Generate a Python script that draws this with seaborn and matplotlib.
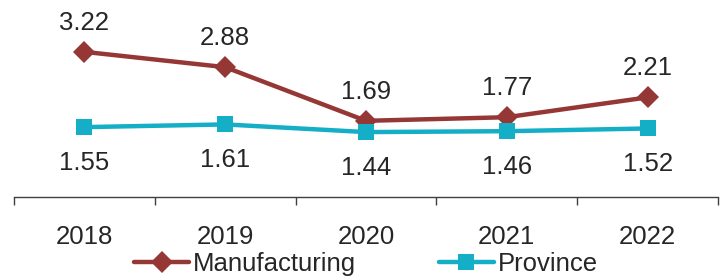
import matplotlib.pyplot as plt
import numpy as np
import pandas as pd
import seaborn as sns

years = ["2018", "2019", "2020", "2021", "2022"]
manufacturing = [3.22, 2.88, 1.69, 1.77, 2.21]
province = [1.55, 1.61, 1.44, 1.46, 1.52]

red = "#953735"
teal = "#14AEC6"

sns.set_style("white")
plt.rcParams["font.family"] = ["Liberation Sans", "DejaVu Sans"]

fig = plt.figure(figsize=(7.24, 2.8), dpi=100)
ax = fig.add_axes([14 / 724, 83 / 280, 704 / 724, 197 / 280])

pos = np.arange(len(years))
df = pd.DataFrame({"pos": pos, "Manufacturing": manufacturing, "Province": province})

sns.lineplot(data=df, x="pos", y="Manufacturing", ax=ax, color=red, lw=3.2,
             marker="D", markersize=11.5, markeredgewidth=0, label="Manufacturing")
sns.lineplot(data=df, x="pos", y="Province", ax=ax, color=teal, lw=3.2,
             marker="s", markersize=11, markeredgewidth=0, label="Province")

fs = 18.5
for x, m, p in zip(pos, manufacturing, province):
    ax.annotate(f"{m:.2f}", (x, m), xytext=(0, 21), textcoords="offset points",
                ha="center", va="center", fontsize=fs)
    ax.annotate(f"{p:.2f}", (x, p), xytext=(0, -25.5), textcoords="offset points",
                ha="center", va="center", fontsize=fs)

ax.set_xlim(-0.5, len(years) - 0.5)
ax.set_ylim(0, 4.37)
ax.set_xticks(pos)
ax.set_xticklabels(years, fontsize=fs)
ax.set_xticks(np.arange(-0.5, len(years), 1), minor=True)
ax.tick_params(axis="x", which="major", length=0, pad=20)
ax.tick_params(axis="x", which="minor", length=6, width=1, color="#404040", direction="out", bottom=True)
ax.set_yticks([])
ax.set_xlabel("")
ax.set_ylabel("")
for s in ["top", "left", "right"]:
    ax.spines[s].set_visible(False)
ax.spines["bottom"].set_color("#404040")
ax.spines["bottom"].set_linewidth(1)
ax.patch.set_alpha(0)

ax.legend(loc="center", bbox_to_anchor=(0.5, -0.34), ncol=2, frameon=False,
          fontsize=fs, handlelength=2.15, handletextpad=0.15, columnspacing=3.2,
          borderaxespad=0)

fig.savefig("out.png", dpi=100)
